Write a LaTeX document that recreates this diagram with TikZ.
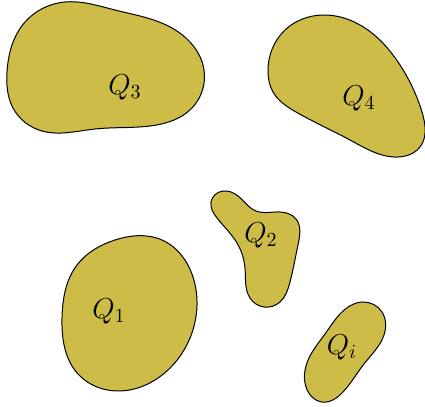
\documentclass[tikz,border=0pt]{standalone}
\usetikzlibrary{hobby}
\definecolor{blobfill}{RGB}{205,189,72}
\tikzset{
  blob/.style={fill=blobfill, draw=black, line width=0.5pt},
  bloblabel/.style={font=\fontsize{14.5}{17}\selectfont}
}
\begin{document}
\begin{tikzpicture}[x=0.5pt, y=-0.5pt]
    % 边界框
    \useasboundingbox (0,0) rectangle (425,407);
    % 区域 Q_3
    \draw[blob] plot[closed hobby] coordinates {(7,72) (25,22) (65,2) (115,10) (172,28) (204,70) (192,108) (150,126) (95,129) (42,131) (13,108)};
    % 区域 Q_4
    \draw[blob] plot[closed hobby] coordinates {(268,72) (285,30) (322,15) (365,28) (400,65) (422,112) (420,147) (398,157) (350,140) (296,112) (273,92)};
    % 区域 Q_2
    \draw[blob] plot[closed hobby] coordinates {(211,202) (223,191) (238,196) (256,211) (280,212) (296,219) (298,245) (290,282) (280,302) (264,307) (250,298) (245,268) (237,243) (217,218)};
    % 区域 Q_1
    \draw[blob] plot[closed hobby] coordinates {(62,318) (77,265) (115,240) (162,240) (193,277) (195,322) (168,370) (118,391) (78,374)};
    % 区域 Q_i
    \draw[blob] plot[closed hobby] coordinates {(340,314) (363,302) (382,312) (384,335) (364,364) (343,392) (322,402) (306,387) (310,356) (325,334)};
    % 标签
    \node[bloblabel] (q3) at (125,87) {$Q_3$};
    \node[bloblabel] (q4) at (359,98) {$Q_4$};
    \node[bloblabel] (q2) at (261,235) {$Q_2$};
    \node[bloblabel] (q1) at (109,311) {$Q_1$};
    \node[bloblabel] (qi) at (342,347) {$Q_i$};
\end{tikzpicture}
\end{document}
